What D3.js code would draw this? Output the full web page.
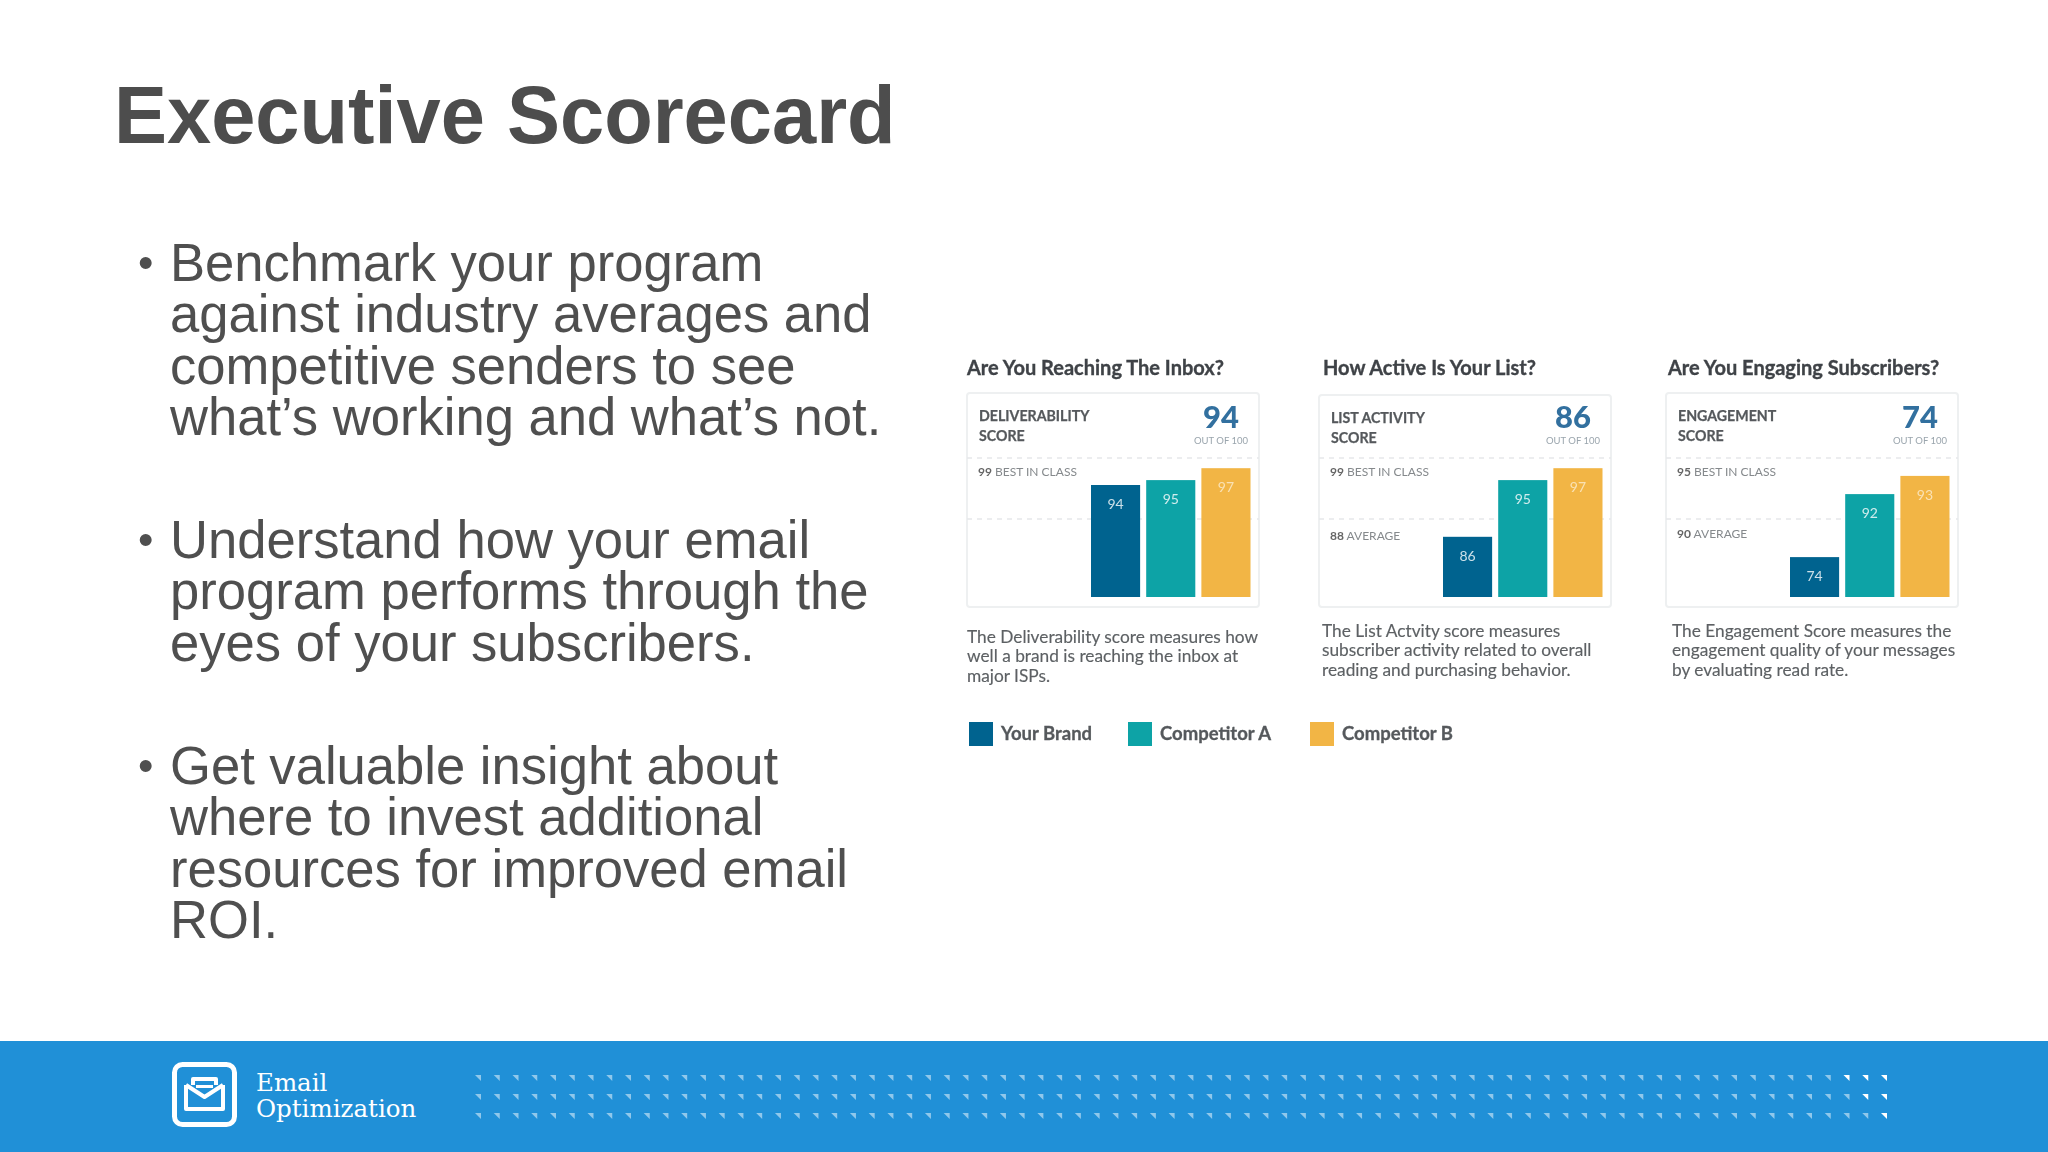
<!DOCTYPE html>
<html>
<head>
<meta charset="utf-8">
<script src="https://cdn.jsdelivr.net/npm/d3@7"></script>
<style>
  html, body { margin: 0; padding: 0; background: #fff; }
  svg { display: block; }
</style>
</head>
<body>
<div id="slide"></div>
<script>
const seriesNames = ["Your Brand", "Competitor A", "Competitor B"];
const seriesColors = ["#02648f", "#10a3a6", "#f2b544"];

const cardTitles = ["Are You Reaching The Inbox?", "How Active Is Your List?", "Are You Engaging Subscribers?"];
const cardLabels = [["DELIVERABILITY", "SCORE"], ["LIST ACTIVITY", "SCORE"], ["ENGAGEMENT", "SCORE"]];
const cardScores = [94, 86, 74];
const bestInClass = [99, 99, 95];
const averages = [null, 88, 90];

// the printed numbers on the bars
const brandValues = [94, 86, 74];
const competitorAValues = [95, 95, 92];
const competitorBValues = [97, 97, 93];

// how tall the bars are really drawn, as % of the plot. the source graphic is
// not proportional to its own labels so these are read separately
const brandHeights = [80, 43, 28.5];
const competitorAHeights = [83.5, 83.5, 73.5];
const competitorBHeights = [92, 92, 86.5];

const cardNotes = [
  ["The Deliverability score measures how", "well a brand is reaching the inbox at", "major ISPs."],
  ["The List Actvity score measures", "subscriber activity related to overall", "reading and purchasing behavior."],
  ["The Engagement Score measures the", "engagement quality of your messages", "by evaluating read rate."]
];

const bullets = [
  ["Benchmark your program", "against industry averages and", "competitive senders to see", "what\u2019s working and what\u2019s not."],
  ["Understand how your email", "program performs through the", "eyes of your subscribers."],
  ["Get valuable insight about", "where to invest additional", "resources for improved email", "ROI."]
];

const svg = d3.select("#slide").append("svg").attr("width", 2048).attr("height", 1152);

const defs = svg.append("defs");
const addBlur = (id, amount) => {
  defs.append("filter").attr("id", id)
    .attr("x", "-5%").attr("y", "-5%").attr("width", "110%").attr("height", "110%")
    .append("feGaussianBlur").attr("stdDeviation", amount);
};
addBlur("soft", 0.5);
addBlur("softer", 0.3);

// ---- title and bullets
const slideText = svg.append("g").attr("filter", "url(#softer)");

slideText.append("text")
  .attr("transform", "translate(114,143) scale(0.969,1)")
  .attr("font-family", "Liberation Sans").attr("font-weight", 700).attr("font-size", 82)
  .attr("fill", "#4d4d4d")
  .text("Executive Scorecard");

const bulletTops = [281, 558, 784];
const lineGap = 51.3;

bullets.forEach((lines, b) => {
  slideText.append("text")
    .attr("x", 138).attr("y", bulletTops[b] - 3)
    .attr("font-family", "Liberation Sans").attr("font-size", 44).attr("fill", "#4f4f4f")
    .text("\u2022");
  slideText.append("g").selectAll("text").data(lines).enter().append("text")
    .attr("transform", (d, i) => `translate(170,${bulletTops[b] + i * lineGap}) scale(0.965,1)`)
    .attr("font-family", "Liberation Sans").attr("font-size", 54.5).attr("fill", "#4f4f4f")
    .text((d) => d);
});

// ---- scorecards
const cardX = [967, 1319, 1666];
const cardTop = [393, 395, 393];
const titleX = [967, 1323, 1668];
const noteX = [967, 1322, 1672];
const noteY = [643, 637, 637];
const labelY = [421, 423, 421];
const avgY = [0, 540, 538];
const cardW = 292;
const cardBottom = 607;
const plotBottom = 597;
const plotTop = 457;

const heightScale = d3.scaleLinear().domain([0, 100]).range([plotBottom, plotTop]);
const font = "Lato";
const charts = svg.append("g").attr("filter", "url(#soft)");

cardTitles.forEach((title, c) => {
  const g = charts.append("g");
  const x0 = cardX[c];

  const x = d3.scaleBand().domain(seriesNames).range([x0 + 124, x0 + 283.5]).paddingInner(0.11).paddingOuter(0);

  g.append("text")
    .attr("x", titleX[c]).attr("y", 375)
    .attr("font-family", font).attr("font-weight", 700).attr("font-size", 20)
    .attr("fill", "#3f4347").attr("stroke", "#3f4347").attr("stroke-width", 0.35)
    .text(title);

  g.append("rect")
    .attr("x", x0).attr("y", cardTop[c])
    .attr("width", cardW).attr("height", cardBottom - cardTop[c])
    .attr("rx", 3)
    .attr("fill", "#fff").attr("stroke", "#eef0f1").attr("stroke-width", 2);

  g.selectAll(".head").data(cardLabels[c]).enter().append("text")
    .attr("x", x0 + 12)
    .attr("y", (d, i) => labelY[c] + i * 19.5)
    .attr("font-family", font).attr("font-weight", 700).attr("font-size", 14.2)
    .attr("fill", "#55595c").attr("stroke", "#55595c").attr("stroke-width", 0.25)
    .text((d) => d);

  g.append("text")
    .attr("x", x0 + 254).attr("y", 428)
    .attr("text-anchor", "middle")
    .attr("font-family", font).attr("font-weight", 900).attr("font-size", 31)
    .attr("fill", "#33709f")
    .text(cardScores[c]);

  g.append("text")
    .attr("x", x0 + 254).attr("y", 444)
    .attr("text-anchor", "middle")
    .attr("font-family", font).attr("font-size", 9.5)
    .attr("fill", "#9aa5ad")
    .text("OUT OF 100");

  // dashed reference lines
  [plotTop + 1, 519].forEach((ly) => {
    g.append("line")
      .attr("x1", x0).attr("x2", x0 + cardW)
      .attr("y1", ly).attr("y2", ly)
      .attr("stroke", "#e6e8ea").attr("stroke-width", 1.4)
      .attr("stroke-dasharray", "5 5");
  });

  const best = g.append("text")
    .attr("x", x0 + 11).attr("y", 476)
    .attr("font-family", font).attr("font-size", 12)
    .attr("fill", "#85898c");
  best.append("tspan").attr("font-weight", 700).attr("fill", "#666").text(bestInClass[c]);
  best.append("tspan").text(" BEST IN CLASS");

  if (averages[c] !== null) {
    const avg = g.append("text")
      .attr("x", x0 + 11).attr("y", avgY[c])
      .attr("font-family", font).attr("font-size", 12)
      .attr("fill", "#85898c");
    avg.append("tspan").attr("font-weight", 700).attr("fill", "#666").text(averages[c]);
    avg.append("tspan").text(" AVERAGE");
  }

  const rows = seriesNames.map((name, s) => ({
    name: name,
    color: seriesColors[s],
    value: [brandValues, competitorAValues, competitorBValues][s][c],
    drawn: [brandHeights, competitorAHeights, competitorBHeights][s][c]
  }));

  g.selectAll(".bar").data(rows).enter().append("rect")
    .attr("class", "bar")
    .attr("x", (d) => x(d.name))
    .attr("y", (d) => heightScale(d.drawn))
    .attr("width", x.bandwidth())
    .attr("height", (d) => plotBottom - heightScale(d.drawn))
    .attr("fill", (d) => d.color);

  g.selectAll(".val").data(rows).enter().append("text")
    .attr("class", "val")
    .attr("x", (d) => x(d.name) + x.bandwidth() / 2)
    .attr("y", (d) => heightScale(d.drawn) + 24)
    .attr("text-anchor", "middle")
    .attr("font-family", font).attr("font-size", 14)
    .attr("fill", "#fff").attr("fill-opacity", (d, i) => (i == 2 ? 0.6 : 0.8))
    .text((d) => d.value);

  g.selectAll(".note").data(cardNotes[c]).enter().append("text")
    .attr("x", noteX[c])
    .attr("y", (d, i) => noteY[c] + i * 19.4)
    .attr("font-family", font).attr("font-size", 17.3)
    .attr("fill", "#5d6164").attr("stroke", "#5d6164").attr("stroke-width", 0.15)
    .text((d) => d);
});

// ---- legend
const legendX = [969, 1128, 1310];
const legend = charts.append("g");
seriesNames.forEach((name, s) => {
  legend.append("rect")
    .attr("x", legendX[s]).attr("y", 722)
    .attr("width", 24).attr("height", 24)
    .attr("fill", seriesColors[s]);
  legend.append("text")
    .attr("x", legendX[s] + 32).attr("y", 740)
    .attr("font-family", font).attr("font-weight", 700).attr("font-size", 18.5)
    .attr("fill", "#55595c").attr("stroke", "#55595c").attr("stroke-width", 0.3)
    .text(name);
});

// ---- footer band
svg.append("rect").attr("x", 0).attr("y", 1041).attr("width", 2048).attr("height", 111).attr("fill", "#2090d7");

svg.append("rect")
  .attr("x", 174.5).attr("y", 1064.5).attr("width", 60).attr("height", 60).attr("rx", 8)
  .attr("fill", "none").attr("stroke", "#fff").attr("stroke-width", 5);

// envelope icon
const icon = svg.append("g").attr("fill", "none").attr("stroke", "#fff").attr("stroke-width", 4).attr("stroke-linejoin", "round");
icon.append("path").attr("d", "M186 1085 V1109 H223 V1085");
icon.append("path").attr("d", "M186 1085 L204.5 1097 L223 1085");
icon.append("path").attr("d", "M193 1085 V1079 H216 V1085");
svg.append("rect").attr("x", 196).attr("y", 1085).attr("width", 17).attr("height", 3).attr("fill", "#fff");

svg.selectAll(".brand").data(["Email", "Optimization"]).enter().append("text")
  .attr("x", 256)
  .attr("y", (d, i) => 1091 + i * 26)
  .attr("font-family", "DejaVu Serif").attr("font-size", 24.5).attr("fill", "#fff")
  .text((d) => d);

// triangle strip on the footer
const stripCols = d3.range(76);
const stripRows = [1075, 1094, 1113];
const stripX = d3.scaleLinear().domain([0, 75]).range([475, 1881]);
const strip = svg.append("g").attr("filter", "url(#softer)");
stripRows.forEach((ry, r) => {
  strip.append("g").selectAll("path").data(stripCols).enter().append("path")
    .attr("d", (d) => {
      const px = stripX(d);
      return `M${px} ${ry} H${px + 6} V${ry + 6} Z`;
    })
    .attr("fill", "#fff")
    .attr("fill-opacity", (d) => (d >= 73 + r ? 1 : 0.5));
});
</script>
</body>
</html>
